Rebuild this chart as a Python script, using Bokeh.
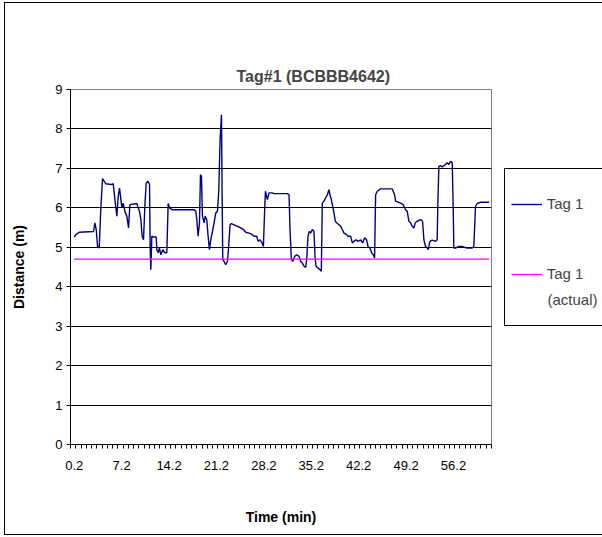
from bokeh.plotting import figure
from bokeh.layouts import row
from bokeh.models import (Range1d, FixedTicker, Legend, LegendItem, Label, BoxAnnotation,
                          InlineStyleSheet, Title)
from bokeh.embed import file_html
from bokeh.resources import INLINE

# Tag 1 distance readings (minutes, metres)
time_min = [
    0.2, 0.45, 0.94, 3.06, 3.25, 3.45, 3.65, 3.89, 4.14, 4.38, 4.63, 4.88, 5.61, 5.96,
    6.10, 6.35, 6.50, 6.69, 6.89, 7.09, 7.24, 7.43, 7.68, 7.97, 8.22, 8.42, 9.45, 9.64,
    9.84, 10.04, 10.23, 10.43, 10.63, 10.82, 11.12, 11.32, 11.41, 11.51, 11.66, 11.91,
    12.30, 12.40, 12.59, 12.79, 12.99, 13.28, 13.58, 13.87, 14.07, 14.27, 14.71, 17.90,
    18.15, 18.30, 18.49, 18.69, 18.84, 18.99, 19.13, 19.38, 19.53, 19.77, 19.97, 20.17,
    20.36, 20.61, 20.85, 21.10, 21.35, 21.54, 21.74, 21.94, 22.03, 22.13, 22.33, 22.57,
    22.82, 22.97, 23.21, 23.41, 23.80, 24.30, 24.79, 25.18, 25.52, 26.02, 26.51, 26.75,
    27.15, 27.34, 27.64, 27.93, 28.13, 28.33, 28.43, 28.72, 28.97, 29.46, 29.70, 31.67,
    31.92, 32.06, 32.26, 32.46, 32.75, 33.05, 33.39, 33.64, 33.88, 34.13, 34.37, 34.52,
    34.72, 34.91, 35.11, 35.35, 35.60, 35.75, 35.90, 36.09, 36.49, 36.68, 36.83, 37.08,
    37.32, 37.57, 37.81, 37.96, 38.16, 38.36, 38.55, 38.75, 38.95, 39.29, 39.54, 39.78,
    40.03, 40.42, 40.62, 41.01, 41.26, 41.50, 41.80, 42.09, 42.49, 42.78, 43.08, 43.37,
    43.57, 43.86, 44.11, 44.35, 44.55, 44.70, 44.94, 45.43, 47.16, 47.50, 47.65, 48.38,
    48.78, 49.12, 49.37, 49.61, 49.86, 50.11, 50.35, 50.55, 50.84, 51.34, 51.63, 51.83,
    52.07, 52.32, 52.47, 52.71, 53.06, 53.55, 53.79, 53.89, 54.04, 54.28, 54.53, 54.78,
    55.02, 55.27, 55.51, 55.76, 56.01, 56.15, 56.25, 56.50, 56.99, 57.48, 58.22, 58.96,
    59.20, 59.45, 59.69, 60.19, 61.46,
]
distance_m = [
    5.26, 5.32, 5.38, 5.40, 5.62, 5.45, 5.02, 4.98, 6.04, 6.74, 6.67, 6.61, 6.59, 6.61,
    6.38, 6.00, 5.79, 6.29, 6.50, 6.21, 6.00, 6.12, 5.91, 5.79, 5.49, 6.08, 6.11, 6.00,
    5.91, 5.70, 5.28, 5.19, 6.04, 6.63, 6.67, 6.59, 5.02, 4.43, 5.28, 5.26,
    5.26, 4.94, 4.86, 4.98, 4.81, 4.94, 4.86, 4.86, 6.11, 6.00, 5.95, 5.95,
    5.91, 5.70, 5.28, 5.62, 6.84, 6.80, 5.79, 5.62, 5.79, 5.70, 5.28, 4.94,
    5.19, 5.40, 5.62, 5.87, 5.91, 6.42, 7.73, 8.36, 6.46, 4.69, 4.64, 4.56,
    4.64, 4.94, 5.57, 5.60, 5.57, 5.53, 5.49, 5.45, 5.38, 5.36, 5.32, 5.28,
    5.28, 5.15, 5.19, 5.11, 5.02, 6.00, 6.42, 6.21, 6.38, 6.38, 6.36, 6.36,
    6.33, 5.45, 4.69, 4.64, 4.77, 4.81, 4.77, 4.64, 4.60, 4.52, 4.49, 4.69,
    5.28, 5.40, 5.36, 5.45, 5.40, 4.77, 4.52, 4.49, 4.43, 4.39, 6.12, 6.17,
    6.25, 6.33, 6.46, 6.33, 6.21, 6.04, 5.87, 5.66, 5.62, 5.57, 5.53, 5.45,
    5.36, 5.32, 5.28, 5.28, 5.11, 5.15, 5.19, 5.15, 5.19, 5.11, 5.24, 5.19,
    5.02, 4.98, 4.86, 4.81, 4.73, 6.33, 6.42, 6.48, 6.48, 6.33, 6.17, 6.12,
    6.08, 5.95, 5.91, 5.66, 5.62, 5.53, 5.49, 5.62, 5.66, 5.70, 5.66, 5.19,
    5.02, 4.98, 4.94, 5.15, 5.18, 5.15, 5.19, 6.12, 7.05, 7.07, 7.04, 7.07,
    7.10, 7.14, 7.10, 7.18, 7.14, 6.04, 4.98, 4.98, 5.02, 5.02, 4.98, 4.98,
    5.02, 6.04, 6.11, 6.14, 6.14,
]
actual_distance_m = 4.7

x_tick_labels = [0.2, 7.2, 14.2, 21.2, 28.2, 35.2, 42.2, 49.2, 56.2]
y_ticks = [0, 1, 2, 3, 4, 5, 6, 7, 8, 9]
grid_levels = [1, 2, 3, 4, 5, 6, 7, 8]

FONT = "Liberation Sans"
NAVY = "#000080"
MAGENTA = "#FF00FF"
X_START, X_END = -0.35, 61.81
N_CATEGORY_TICKS = 80
FRAME_TOP, FRAME_BOTTOM = 89, 444

# ---- main chart -------------------------------------------------------------
p = figure(
    title=None,
    width=503, height=537, output_backend="svg", toolbar_location=None,
    x_range=Range1d(X_START, X_END), y_range=Range1d(0, 9),
    min_border_left=70, min_border_right=12,
    min_border_top=FRAME_TOP, min_border_bottom=537 - FRAME_BOTTOM,
    background_fill_color="white", border_fill_color="white",
)
p.outline_line_color = "#808080"
p.outline_line_width = 1

# chart title, with an invisible spacer title between it and the plot area
p.add_layout(Title(text="Tag#1 (BCBBB4642)", text_font=FONT, text_font_size="16px",
                   text_font_style="bold", align="left", offset=166, standoff=10),
             "above")
p.add_layout(Title(text=".", text_alpha=0, text_font=FONT, text_font_size="12px",
                   standoff=30), "above")

# category-style tick marks along the time axis, labels every 9th interval
step = (X_END - X_START) / N_CATEGORY_TICKS
cat_ticks = [X_START + k * step for k in range(N_CATEGORY_TICKS + 1)]
xaxis = p.below[0]
xaxis.ticker = FixedTicker(ticks=x_tick_labels, minor_ticks=cat_ticks)
xaxis.major_label_overrides = {v: f"{v:.1f}" for v in x_tick_labels}
xaxis.major_tick_line_color = None
xaxis.major_tick_out = 4
xaxis.major_tick_in = 0
xaxis.minor_tick_line_color = "black"
xaxis.minor_tick_out = 4
xaxis.minor_tick_in = 0
xaxis.major_label_standoff = 12
xaxis.axis_label = "Time (min)"
xaxis.axis_label_standoff = 36

yaxis = p.left[0]
yaxis.ticker = FixedTicker(ticks=y_ticks)
yaxis.major_tick_line_color = "black"
yaxis.major_tick_out = 4
yaxis.major_tick_in = 0
yaxis.minor_tick_line_color = None
yaxis.major_label_standoff = 4
yaxis.axis_label = "Distance (m)"
yaxis.axis_label_standoff = 25

for ax in (xaxis, yaxis):
    ax.axis_line_color = "black"
    ax.axis_line_width = 1
    ax.major_label_text_font = FONT
    ax.major_label_text_font_size = "13px"
    ax.major_label_text_color = "black"
    ax.axis_label_text_font = FONT
    ax.axis_label_text_font_size = "14px"
    ax.axis_label_text_font_style = "bold"
    ax.axis_label_text_color = "black"

p.xgrid.visible = False
p.ygrid.ticker = FixedTicker(ticks=grid_levels)
p.ygrid.grid_line_color = "black"
p.ygrid.grid_line_width = 1

p.line(time_min, distance_m, line_color=NAVY, line_width=1.4)
p.line([time_min[0], time_min[-1]], [actual_distance_m, actual_distance_m],
       line_color=MAGENTA, line_width=1.3)

# ---- legend panel: data units equal page pixels (y grows downward) ----------
lg = figure(
    width=99, height=537, output_backend="svg", toolbar_location=None,
    x_range=Range1d(503, 602), y_range=Range1d(FRAME_BOTTOM, FRAME_TOP),
    x_axis_type=None, y_axis_type=None,
    min_border_left=0, min_border_right=0,
    min_border_top=FRAME_TOP, min_border_bottom=537 - FRAME_BOTTOM,
    background_fill_color="white", border_fill_color="white",
)
lg.outline_line_color = None
lg.grid.visible = False

lg.add_layout(BoxAnnotation(left=504, right=610, top=168, bottom=325,
                            fill_alpha=0, line_color="black", line_alpha=1,
                            line_width=1))

# key proxies: same styling, their data falls outside this panel's ranges
key_meas = lg.line(time_min, distance_m, line_color=NAVY, line_width=1.4)
key_act = lg.line([time_min[0], time_min[-1]], [actual_distance_m, actual_distance_m],
                  line_color=MAGENTA, line_width=1.3)
legend = Legend(
    items=[LegendItem(label="Tag 1", renderers=[key_meas]),
           LegendItem(label="Tag 1", renderers=[key_act])],
    location=(7.7, FRAME_BOTTOM - 282),
    border_line_color=None, background_fill_alpha=0,
    label_text_font=FONT, label_text_font_size="15px",
    glyph_width=31, glyph_height=16, label_height=16, label_standoff=5,
    padding=0, spacing=53, margin=0,
)
lg.add_layout(legend, "center")
lg.add_layout(Label(x=547, y=299, text="(actual)", text_font=FONT,
                    text_font_size="15px", text_baseline="middle"))

# chart-area border drawn over both panels
border_css = InlineStyleSheet(css="""
:host { position: relative; }
:host::after {
  content: "";
  position: absolute;
  left: 4px; top: 2px; width: 640px; height: 533px;
  border: 1.5px solid black;
  box-sizing: border-box;
  pointer-events: none;
  z-index: 100;
}
""")
layout = row(p, lg, stylesheets=[border_css])

open("out.html", "w").write(file_html(layout, INLINE))
